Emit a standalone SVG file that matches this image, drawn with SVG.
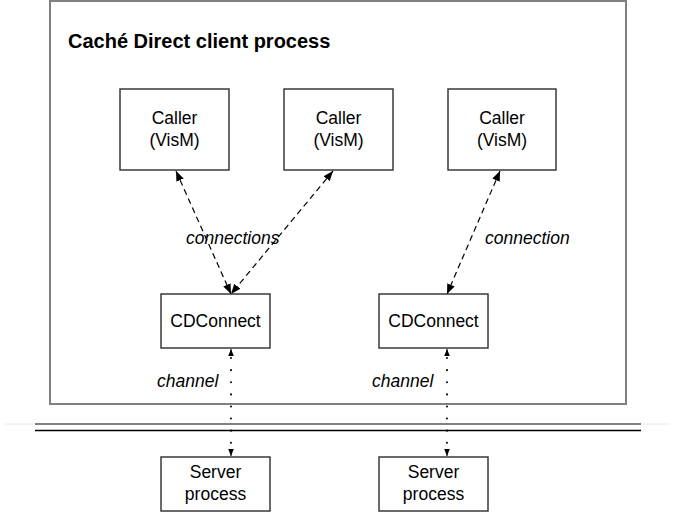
<svg xmlns="http://www.w3.org/2000/svg" width="676" height="513" viewBox="0 0 676 513">
<style>
.box{fill:#fff;stroke:#3a3a3a;stroke-width:1.5}
.lbl{font-family:"Liberation Sans",Arial,sans-serif;font-size:17.5px;fill:#000;text-anchor:middle}
.it{font-family:"Liberation Sans",Arial,sans-serif;font-size:17.5px;font-style:italic;fill:#000}
.dash{stroke:#000;stroke-width:1.2;stroke-dasharray:6,4;fill:none}
.dot{stroke:#000;stroke-width:2;stroke-dasharray:0.1,12;stroke-linecap:round;fill:none}
</style>
<defs>
<marker id="ah" viewBox="0 0 10 10" refX="10" refY="5" markerWidth="10" markerHeight="10" markerUnits="userSpaceOnUse" orient="auto-start-reverse">
<path d="M0,1 L10,5 L0,9 z" fill="#000"/>
</marker>
<marker id="ahs" viewBox="0 0 10 10" refX="10" refY="5" markerWidth="7" markerHeight="7" markerUnits="userSpaceOnUse" orient="auto-start-reverse">
<path d="M0,1 L10,5 L0,9 z" fill="#000"/>
</marker>
</defs>
<rect width="676" height="513" fill="#fff"/>
<g id="client-process">
<rect x="50" y="1" width="576" height="403" fill="#fff" stroke="#808080" stroke-width="2"/>
<text x="68" y="48" font-family="Liberation Sans,Arial,sans-serif" font-size="20" font-weight="bold">Caché Direct client process</text>
</g>
<g id="separator">
<line x1="5" y1="424" x2="670" y2="424" stroke="#e8e8e8" stroke-width="1"/>
<line x1="35" y1="424" x2="641" y2="424" stroke="#808080" stroke-width="2"/>
<line x1="35" y1="430.5" x2="641" y2="430.5" stroke="#000" stroke-width="1.5"/>
</g>
<g id="connectors">
<line class="dash" x1="176" y1="171" x2="231" y2="294" marker-start="url(#ah)" marker-end="url(#ah)"/>
<line class="dash" x1="333" y1="171" x2="231" y2="294" marker-start="url(#ah)" marker-end="url(#ah)"/>
<line class="dash" x1="500" y1="171" x2="447" y2="294" marker-start="url(#ah)" marker-end="url(#ah)"/>
<line class="dot" x1="231" y1="358" x2="231" y2="450"/>
<line x1="231" y1="356" x2="231" y2="349" stroke="#000" marker-end="url(#ahs)"/>
<line x1="231" y1="449" x2="231" y2="456" stroke="#000" marker-end="url(#ahs)"/>
<line class="dot" x1="447" y1="358" x2="447" y2="450"/>
<line x1="447" y1="356" x2="447" y2="349" stroke="#000" marker-end="url(#ahs)"/>
<line x1="447" y1="449" x2="447" y2="456" stroke="#000" marker-end="url(#ahs)"/>
<text class="it" x="186" y="244">connections</text>
<text class="it" x="485" y="244">connection</text>
<text class="it" x="157" y="387">channel</text>
<text class="it" x="372" y="387">channel</text>
</g>
<g id="caller1">
<rect class="box" x="120" y="89" width="109" height="81"/>
<text class="lbl" x="174.5" y="124">Caller</text>
<text class="lbl" x="174.5" y="146">(VisM)</text>
</g>
<g id="caller2">
<rect class="box" x="284" y="89" width="109" height="81"/>
<text class="lbl" x="338.5" y="124">Caller</text>
<text class="lbl" x="338.5" y="146">(VisM)</text>
</g>
<g id="caller3">
<rect class="box" x="448" y="89" width="108" height="81"/>
<text class="lbl" x="502" y="124">Caller</text>
<text class="lbl" x="502" y="146">(VisM)</text>
</g>
<g id="cdconnect1">
<rect class="box" x="161" y="294" width="109" height="54"/>
<text class="lbl" x="215.5" y="327">CDConnect</text>
</g>
<g id="cdconnect2">
<rect class="box" x="379" y="294" width="109" height="54"/>
<text class="lbl" x="433.5" y="327">CDConnect</text>
</g>
<g id="server1">
<rect class="box" x="161" y="457" width="109" height="54"/>
<text class="lbl" x="215.5" y="478">Server</text>
<text class="lbl" x="215.5" y="500">process</text>
</g>
<g id="server2">
<rect class="box" x="379" y="457" width="109" height="54"/>
<text class="lbl" x="433.5" y="478">Server</text>
<text class="lbl" x="433.5" y="500">process</text>
</g>
</svg>
